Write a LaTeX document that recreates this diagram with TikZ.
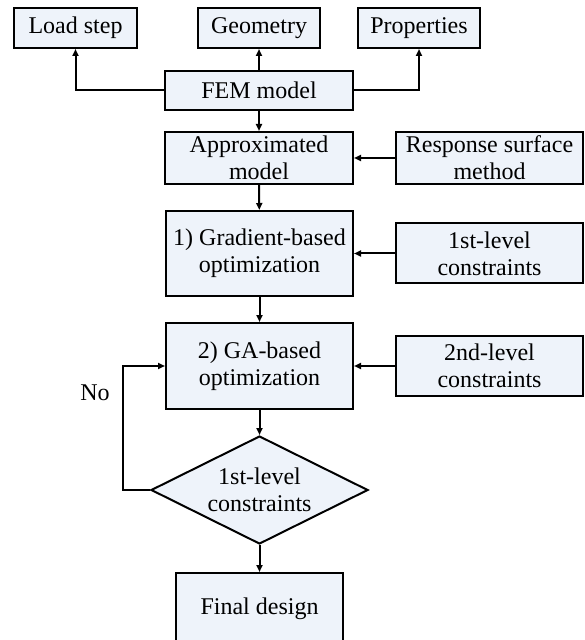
\documentclass[tikz,border=0pt]{standalone}
\usepackage{fontspec}
\setmainfont{Liberation Serif}
\usepackage{tikz}
\usetikzlibrary{arrows.meta, shapes.geometric}
\definecolor{boxfill}{RGB}{238,243,250}

\begin{document}
\begin{tikzpicture}[x=0.5pt, y=-0.5pt, line width=1pt,
    box/.style={draw, fill=boxfill, align=center, inner sep=0pt,
        font=\fontsize{12}{13.5}\selectfont},
    decbox/.style={box, diamond, aspect=2},
    arr/.style={-{Triangle[length=3.5pt, width=3pt]}}]
    \useasboundingbox (0,0) rectangle (584,640);
    % top row
    \node[box, minimum width=61.5pt, minimum height=20pt] (load) at (75.5,28) {Load step};
    \node[box, minimum width=61pt, minimum height=20pt] (geom) at (259,28) {Geometry};
    \node[box, minimum width=61pt, minimum height=20pt] (prop) at (419,28) {Properties};
    % main column
    \node[box, minimum width=94pt, minimum height=19.5pt] (fem) at (259,90.5) {FEM model};
    \node[box, minimum width=94pt, minimum height=26pt] (approx) at (259,158) {Approximated\\model};
    \node[box, minimum width=93.5pt, minimum height=42.5pt] (grad) at (259.5,253.5) {1) Gradient-based\\optimization};
    \node[box, minimum width=93.5pt, minimum height=43pt] (ga) at (259.5,366) {2) GA-based\\optimization};
    \node[decbox, minimum width=108.5pt, minimum height=54pt] (dec) at (259.5,490) {1st-level\\constraints};
    \node[box, minimum width=83.5pt, minimum height=36pt] (final) at (259.5,609) {Final design};
    % right column
    \node[box, minimum width=93.5pt, minimum height=26pt] (rsm) at (489.5,158) {Response surface\\method};
    \node[box, minimum width=93.5pt, minimum height=30pt] (lvl1) at (489.5,253.5) {1st-level\\constraints};
    \node[box, minimum width=93.5pt, minimum height=30pt] (lvl2) at (489.5,366) {2nd-level\\constraints};
    % arrows
    \draw[arr] (fem.west) -| (load.south);
    \draw[arr] (fem) -- (geom);
    \draw[arr] (fem.east) -| (prop.south);
    \draw[arr] (fem) -- (approx);
    \draw[arr] (approx) -- (grad);
    \draw[arr] (grad) -- (ga);
    \draw[arr] (ga) -- (dec);
    \draw[arr] (dec) -- (final);
    \draw[arr] (rsm) -- (approx);
    \draw[arr] (lvl1) -- (grad);
    \draw[arr] (lvl2) -- (ga);
    % loop back
    \coordinate (back) at (123,366);
    \draw[arr] (dec.west) -| (back) -- (ga.west);
    \node[font=\fontsize{12}{13.5}\selectfont] (no) at (95,393) {No};
\end{tikzpicture}
\end{document}
